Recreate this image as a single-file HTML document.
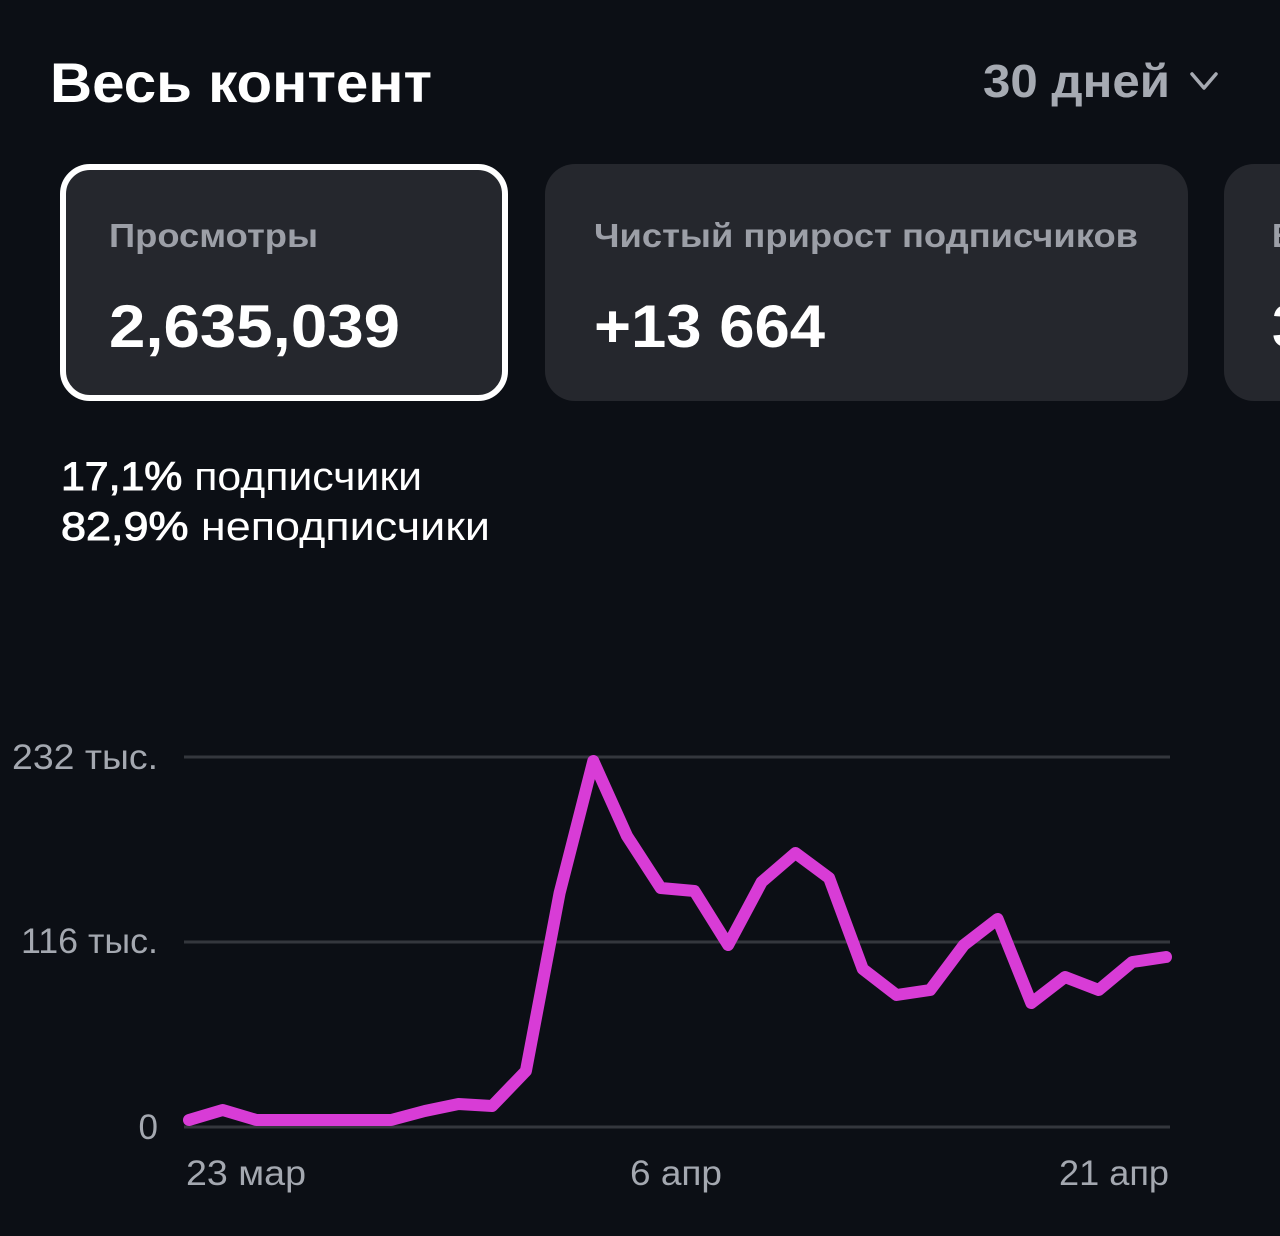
<!DOCTYPE html>
<html>
<head>
<meta charset="utf-8">
<style>
html,body{margin:0;padding:0;background:#0c0f15;}
svg{display:block;}
text{font-family:"Liberation Sans","DejaVu Sans",sans-serif;}
</style>
</head>
<body>
<svg width="1280" height="1236" viewBox="0 0 1280 1236" xmlns="http://www.w3.org/2000/svg">
<rect x="0" y="0" width="1280" height="1236" fill="#0c0f15"/>

<!-- Header -->
<text x="50" y="102" font-size="56" font-weight="bold" fill="#ffffff" textLength="382" lengthAdjust="spacingAndGlyphs">Весь контент</text>
<text x="983" y="97" font-size="46" font-weight="bold" fill="#a6aab2" textLength="187" lengthAdjust="spacingAndGlyphs">30 дней</text>
<polyline points="1192,74 1204,88 1216,74" fill="none" stroke="#a6aab2" stroke-width="3.5" stroke-linecap="round" stroke-linejoin="round"/>

<!-- Cards -->
<rect x="63" y="167" width="442" height="231" rx="27" ry="27" fill="#25272d" stroke="#ffffff" stroke-width="6"/>
<rect x="545" y="164" width="643" height="237" rx="30" ry="30" fill="#25272d"/>
<rect x="1224" y="164" width="200" height="237" rx="30" ry="30" fill="#25272d"/>

<text x="109" y="247" font-size="33" font-weight="bold" fill="#9c9fa7" textLength="209" lengthAdjust="spacingAndGlyphs">Просмотры</text>
<text x="109" y="347" font-size="60" font-weight="bold" fill="#ffffff" textLength="291" lengthAdjust="spacingAndGlyphs">2,635,039</text>

<text x="594" y="247" font-size="33" font-weight="bold" fill="#9c9fa7" textLength="544" lengthAdjust="spacingAndGlyphs">Чистый прирост подписчиков</text>
<text x="594" y="347" font-size="60" font-weight="bold" fill="#ffffff" textLength="231" lengthAdjust="spacingAndGlyphs">+13 664</text>

<text x="1272" y="247" font-size="33" font-weight="bold" fill="#9c9fa7">В</text>
<text x="1272" y="347" font-size="60" font-weight="bold" fill="#ffffff">3</text>

<!-- Stats -->
<text x="61" y="490" font-size="40" fill="#ffffff" textLength="361" lengthAdjust="spacingAndGlyphs"><tspan stroke="#ffffff" stroke-width="1">17,1%</tspan> подписчики</text>
<text x="61" y="540" font-size="40" fill="#ffffff" textLength="429" lengthAdjust="spacingAndGlyphs"><tspan stroke="#ffffff" stroke-width="1">82,9%</tspan> неподписчики</text>

<!-- Grid -->
<line x1="184" y1="757" x2="1170" y2="757" stroke="#34373d" stroke-width="3"/>
<line x1="184" y1="942" x2="1170" y2="942" stroke="#34373d" stroke-width="3"/>
<line x1="184" y1="1127" x2="1170" y2="1127" stroke="#34373d" stroke-width="3"/>

<!-- Y labels -->
<text x="158" y="769" font-size="35" fill="#a4a8b0" text-anchor="end" textLength="146" lengthAdjust="spacingAndGlyphs">232 тыс.</text>
<text x="158" y="953" font-size="35" fill="#a4a8b0" text-anchor="end" textLength="137" lengthAdjust="spacingAndGlyphs">116 тыс.</text>
<text x="158" y="1139" font-size="35" fill="#a4a8b0" text-anchor="end">0</text>

<!-- X labels -->
<text x="186" y="1185" font-size="35" fill="#a4a8b0" textLength="120" lengthAdjust="spacingAndGlyphs">23 мар</text>
<text x="630" y="1185" font-size="35" fill="#a4a8b0" textLength="92" lengthAdjust="spacingAndGlyphs">6 апр</text>
<text x="1059" y="1185" font-size="35" fill="#a4a8b0" textLength="110" lengthAdjust="spacingAndGlyphs">21 апр</text>

<!-- Series -->
<polyline fill="none" stroke="#d83cd6" stroke-width="12" stroke-linecap="round" stroke-linejoin="round"
points="189,1120 222.7,1110 256.4,1120 290.1,1120 323.8,1120 357.5,1120 391.1,1120 424.8,1111 458.5,1104 492.2,1106 525.9,1071 559.6,893 593.3,761 627,836 660.7,888 694.4,891 728.1,945 761.7,882 795.4,853 829.1,878 862.8,969 896.5,995 930.2,990 963.9,945 997.6,919 1031.3,1003 1065,977 1098.7,990 1132.3,962 1166,957"/>
</svg>
</body>
</html>
